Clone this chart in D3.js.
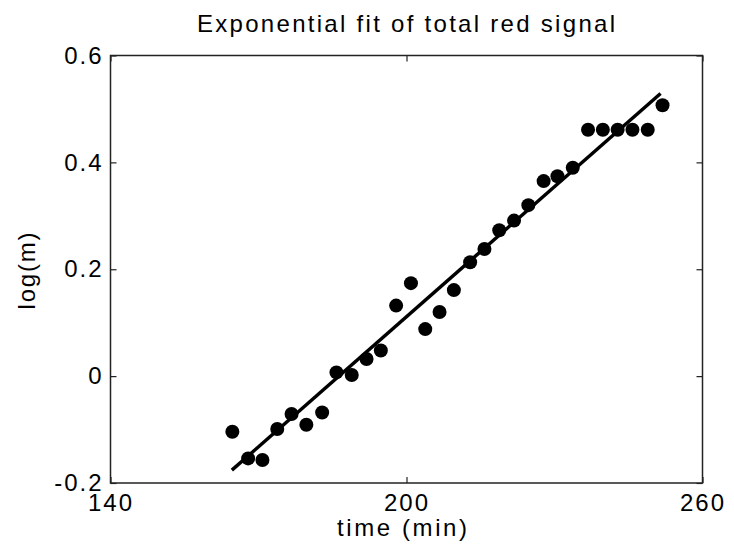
<!DOCTYPE html>
<html>
<head>
<meta charset="utf-8">
<script src="https://cdn.jsdelivr.net/npm/d3@7"></script>
<style>
  html, body { margin: 0; padding: 0; background: #fff; }
  svg { display: block; }
  text { font-family: "Liberation Sans", Arial, sans-serif; fill: #000; }
</style>
</head>
<body>
<svg id="chart" width="734" height="548"></svg>
<script>
const titleText = "Exponential fit of total red signal";
const xLabel = "time (min)";
const yLabel = "log(m)";

const timeMin = [164.7,167.9,170.8,173.8,176.7,179.7,182.9,185.8,188.9,191.9,194.8,197.9,200.9,203.8,206.7,209.6,212.9,215.8,218.8,221.8,224.7,227.8,230.6,233.7,236.8,239.8,242.8,245.8,248.9,251.9];
const logM = [-0.104,-0.154,-0.157,-0.099,-0.071,-0.091,-0.068,0.007,0.002,0.032,0.048,0.132,0.174,0.088,0.120,0.161,0.213,0.238,0.273,0.291,0.320,0.365,0.374,0.390,0.461,0.461,0.461,0.461,0.461,0.507];

const fitTime = [164.6, 251.5];
const fitLog = [-0.176, 0.529];

const xTicks = [140, 200, 260];
const yTicks = [-0.2, 0, 0.2, 0.4, 0.6];

const svg = d3.select("#chart");
const L = 110.5, R = 702.5, T = 55.5, B = 483;

const x = d3.scaleLinear().domain([140, 260]).range([L, R]);
const y = d3.scaleLinear().domain([-0.2, 0.6]).range([B, T]);

const fmtY = d => d === 0 ? "0" : d3.format(".1f")(d).replace("\u2212", "-");

// Box
svg.append("rect")
  .attr("x", L).attr("y", T).attr("width", R - L).attr("height", B - T)
  .attr("fill", "none").attr("stroke", "#222").attr("stroke-width", 1.5);

// Axes with inward ticks
const tickLen = 6;
const gx = svg.append("g").attr("transform", `translate(0,${B})`)
  .call(d3.axisBottom(x).tickValues(xTicks).tickSize(-tickLen).tickFormat(d3.format("d")));
const gxTop = svg.append("g").attr("transform", `translate(0,${T})`)
  .call(d3.axisTop(x).tickValues(xTicks).tickSize(-tickLen).tickFormat(""));
const gy = svg.append("g").attr("transform", `translate(${L},0)`)
  .call(d3.axisLeft(y).tickValues(yTicks).tickSize(-tickLen).tickPadding(7).tickFormat(fmtY));
const gyR = svg.append("g").attr("transform", `translate(${R},0)`)
  .call(d3.axisRight(y).tickValues(yTicks).tickSize(-tickLen).tickFormat(""));

[gx, gxTop, gy, gyR].forEach(g => {
  g.select(".domain").remove();
  g.selectAll(".tick line").attr("stroke", "#222").attr("stroke-width", 1.2);
  g.selectAll(".tick text")
    .style("font-family", "'Liberation Sans', Arial, sans-serif")
    .style("font-size", "24px")
    .style("letter-spacing", "2px")
    .attr("fill", "#000");
});
gx.selectAll(".tick text").attr("y", 11).attr("dy", "0.71em");

// Fit line
svg.append("path")
  .datum(fitTime.map((t, i) => [t, fitLog[i]]))
  .attr("d", d3.line().x(d => x(d[0])).y(d => y(d[1])))
  .attr("fill", "none").attr("stroke", "#000").attr("stroke-width", 3.5);

// Points
svg.append("g").selectAll("circle")
  .data(timeMin.map((t, i) => [t, logM[i]]))
  .join("circle")
  .attr("cx", d => x(d[0])).attr("cy", d => y(d[1]))
  .attr("r", 7).attr("fill", "#000");

// Title & labels
svg.append("text").attr("x", 406).attr("y", 32).attr("text-anchor", "middle")
  .style("font-size", "24px").attr("textLength", 418).attr("lengthAdjust", "spacing")
  .text(titleText);
svg.append("text").attr("x", 402).attr("y", 536).attr("text-anchor", "middle")
  .style("font-size", "24px").attr("textLength", 130).attr("lengthAdjust", "spacing")
  .text(xLabel);
svg.append("text").attr("transform", "translate(35,271) rotate(-90)").attr("text-anchor", "middle")
  .style("font-size", "24px").attr("textLength", 77).attr("lengthAdjust", "spacing")
  .text(yLabel);
</script>
</body>
</html>
